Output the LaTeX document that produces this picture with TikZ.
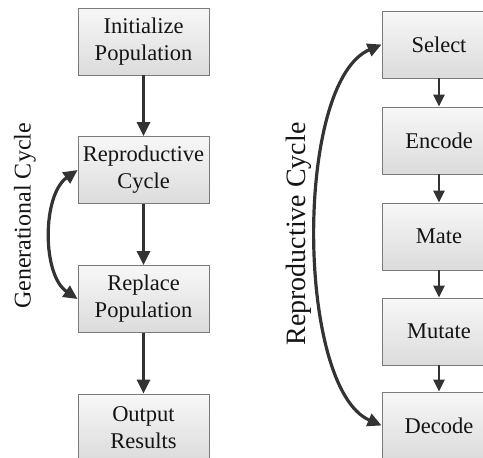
\documentclass[tikz,border=0pt]{standalone}
\usepackage{fontspec}
\setmainfont{Liberation Serif}
\usetikzlibrary{arrows.meta}
\definecolor{arr}{HTML}{333333}
\definecolor{edge}{HTML}{7A7A7A}
\tikzset{
  box/.style={draw=edge, line width=0.8pt, top color=white!97!black, bottom color=white!86!black,
    align=center, inner sep=0pt, font=\fontsize{22.5}{27}\selectfont, text=black!92},
  lbox/.style={box, minimum width=131pt, minimum height=67pt},
  rbox/.style={box, minimum width=114pt, minimum height=67pt},
  flow/.style={draw=arr, line width=3pt, -{Triangle[length=14pt,width=13pt]}},
  rflow/.style={draw=arr, line width=2.5pt, -{Triangle[length=12pt,width=11pt]}},
  cyc/.style={draw=arr, line width=3.2pt, {Triangle[length=14pt,width=13pt]}-{Triangle[length=14pt,width=13pt]}},
  cyclabel/.style={rotate=90, inner sep=0pt, text=black!92}
}
\begin{document}
\begin{tikzpicture}[x=1pt,y=-1pt]
\useasboundingbox (0,0) rectangle (483,458);
\node[lbox] (init) at (143.5,41.5) {Initialize\\Population};
\node[lbox] (repro) at (143.5,170) {Reproductive\\Cycle};
\node[lbox] (repl) at (143.5,299) {Replace\\Population};
\node[lbox] (out) at (143.5,427.5) {Output\\Results};
\node[rbox] (sel) at (439,44.5) {Select};
\node[rbox] (enc) at (439,140.5) {Encode};
\node[rbox] (mate) at (439,236.5) {Mate};
\node[rbox] (mut) at (439,331.5) {Mutate};
\node[rbox] (dec) at (439,425.5) {Decode};
\draw[flow] (init) -- (repro);
\draw[flow] (repro) -- (repl);
\draw[flow] (repl) -- (out);
\draw[rflow] (sel) -- (enc);
\draw[rflow] (enc) -- (mate);
\draw[rflow] (mate) -- (mut);
\draw[rflow] (mut) -- (dec);
\draw[cyc] (repro.west) .. controls (42,195) and (42,275) .. (repl.west);
\draw[cyc] (sel.west) .. controls (294,82) and (296,388) .. (dec.west);
\node[cyclabel, font=\fontsize{28}{33}\selectfont] (rl) at (299,234) {Reproductive Cycle};
\node[cyclabel, font=\fontsize{24}{28}\selectfont] (gl) at (25,216) {Generational Cycle};
\end{tikzpicture}
\end{document}
